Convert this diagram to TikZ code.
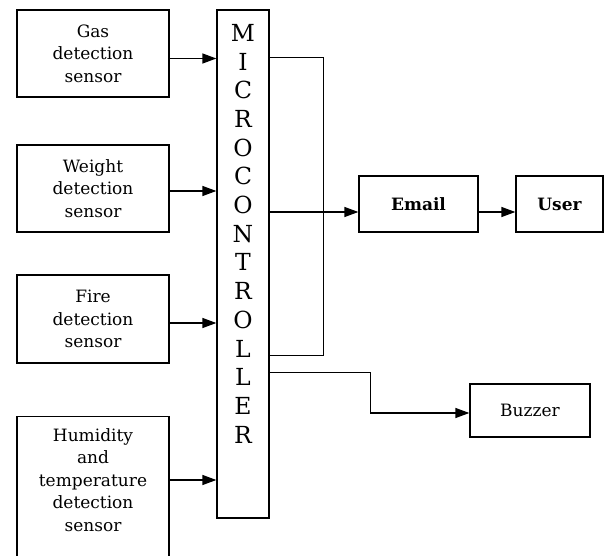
\documentclass[tikz,border=0pt]{standalone}
\usepackage{fontspec}
\setmainfont{DejaVu Serif}
\usetikzlibrary{arrows.meta,calc}
\begin{document}
\begin{tikzpicture}[x=1pt,y=-1pt,
  box/.style={draw,line width=1.3pt,rectangle,inner sep=0pt,align=center,
    font=\fontsize{17}{22.5}\selectfont},
  lbl/.style={inner sep=0pt,align=center,font=\fontsize{17}{22.5}\selectfont},
  arr/.style={line width=1.3pt,-{Triangle[length=14pt,width=10pt]}},
  wire/.style={line width=1.4pt}]
\clip (0,0) rectangle (605,556);
\fill[white] (0,0) rectangle (605,556);
% sensors
\node[box,minimum width=152,minimum height=87] (gas) at (93,53.5) {Gas\\detection\\sensor};
\node[box,minimum width=152,minimum height=87] (weight) at (93,188.5) {Weight\\detection\\sensor};
\node[box,minimum width=152,minimum height=88] (fire) at (93,319) {Fire\\detection\\sensor};
\node[box,minimum width=152,minimum height=170,anchor=north] (hum) at (93,416) {};
\node[lbl] (humtext) at (93,480) {Humidity\\and\\temperature\\detection\\sensor};
% microcontroller
\node[box,minimum width=52,minimum height=508] (mc) at (243,264) {};
\node[inner sep=0pt,align=center,anchor=north,font=\fontsize{23.5}{28.7}\selectfont] (mctext) at (243,24)
  {M\\I\\C\\R\\O\\C\\O\\N\\T\\R\\O\\L\\L\\E\\R};
% outputs
\node[box,minimum width=119,minimum height=56,font=\fontsize{17}{22.5}\selectfont\bfseries] (email) at (418.5,204) {Email};
\node[box,minimum width=87,minimum height=56,font=\fontsize{17}{22.5}\selectfont\bfseries] (user) at (559.5,204) {User};
\node[box,minimum width=120,minimum height=53] (buzzer) at (530,410.5) {Buzzer};
% inputs
\draw[arr] ([yshift=-5pt]gas.east) -- ([yshift=-5pt]gas.east -| mc.west);
\draw[arr] ([yshift=-2.5pt]weight.east) -- ([yshift=-2.5pt]weight.east -| mc.west);
\draw[arr] ([yshift=-4pt]fire.east) -- ([yshift=-4pt]fire.east -| mc.west);
\coordinate (hin) at ($(hum.north east)+(0,64)$);
\draw[arr] (hin) -- (hin -| mc.west);
% bracket
\coordinate (b1) at ($(mc.north east)+(0,48)$);
\coordinate (b2) at ($(mc.north east)+(54,346)$);
\draw[wire] (b1) -| (b2) -- (b2 -| mc.east);
% email / user
\coordinate (ein) at ($(email.west)+(0,8)$);
\draw[arr] (ein -| mc.east) -- (ein);
\draw[arr] (ein -| email.east) -- (ein -| user.west);
% buzzer
\coordinate (bz) at ($(buzzer.west)+(0,2.5)$);
\coordinate (bo) at ($(mc.north east)+(0,363)$);
\draw[arr] (bo) -- ++(101,0) |- (bz);
\end{tikzpicture}
\end{document}
